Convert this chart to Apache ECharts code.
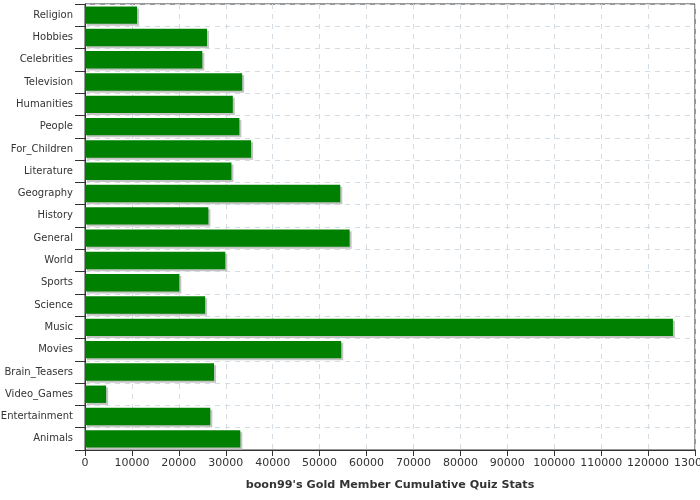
<!DOCTYPE html>
<html><head><meta charset="utf-8">
<script src="https://cdn.jsdelivr.net/npm/echarts@6/dist/echarts.min.js"></script>
<style>html,body{margin:0;padding:0;background:#fff}#c{width:700px;height:500px}</style>
</head><body><div id="c"></div>
<script>
var categories = ["Religion","Hobbies","Celebrities","Television","Humanities","People","For_Children","Literature","Geography","History","General","World","Sports","Science","Music","Movies","Brain_Teasers","Video_Games","Entertainment","Animals"];
var values = [11100,26000,25000,33500,31500,32900,35400,31200,54400,26300,56400,29900,20100,25600,125300,54600,27500,4500,26700,33100];
var title = "boon99's Gold Member Cumulative Quiz Stats";

var chart = echarts.init(document.getElementById('c'), null, {renderer:'canvas'});
var font = 'DejaVu Sans';
chart.setOption({
  animation:false,
  grid:{left:85,right:5,top:4,bottom:50,containLabel:false,outerBoundsMode:'none',show:true,borderColor:'#333',borderWidth:1,backgroundColor:'transparent'},
  xAxis:{type:'value',min:0,max:130000,interval:10000,
    name:title,nameLocation:'middle',nameGap:30,
    nameTextStyle:{fontFamily:font,fontWeight:'bold',fontSize:11.2,color:'#333'},
    axisLine:{show:true,lineStyle:{color:'#333'}},
    axisTick:{show:true,length:6,lineStyle:{color:'#333'}},
    axisLabel:{fontFamily:font,fontSize:11,color:'#333',margin:8,showMaxLabel:true,hideOverlap:false,formatter:function(v){return String(v);}},
    splitLine:{show:true,lineStyle:{type:[5,5],color:'#d4dde3'}}},
  yAxis:{type:'category',data:categories,inverse:true,
    axisLine:{show:true,lineStyle:{color:'#333'}},
    axisTick:{show:true,length:10,lineStyle:{color:'#333'}},
    axisLabel:{fontFamily:font,fontSize:10,color:'#333',margin:12},
    splitLine:{show:true,lineStyle:{type:[5,5],color:'#d4dde3'}}},
  series:[{type:'bar',data:values,barCategoryGap:'22%',
    itemStyle:{color:'#008000',shadowColor:'#c4c4c4',shadowOffsetX:2,shadowOffsetY:2,shadowBlur:0}}]
});
</script></body></html>
